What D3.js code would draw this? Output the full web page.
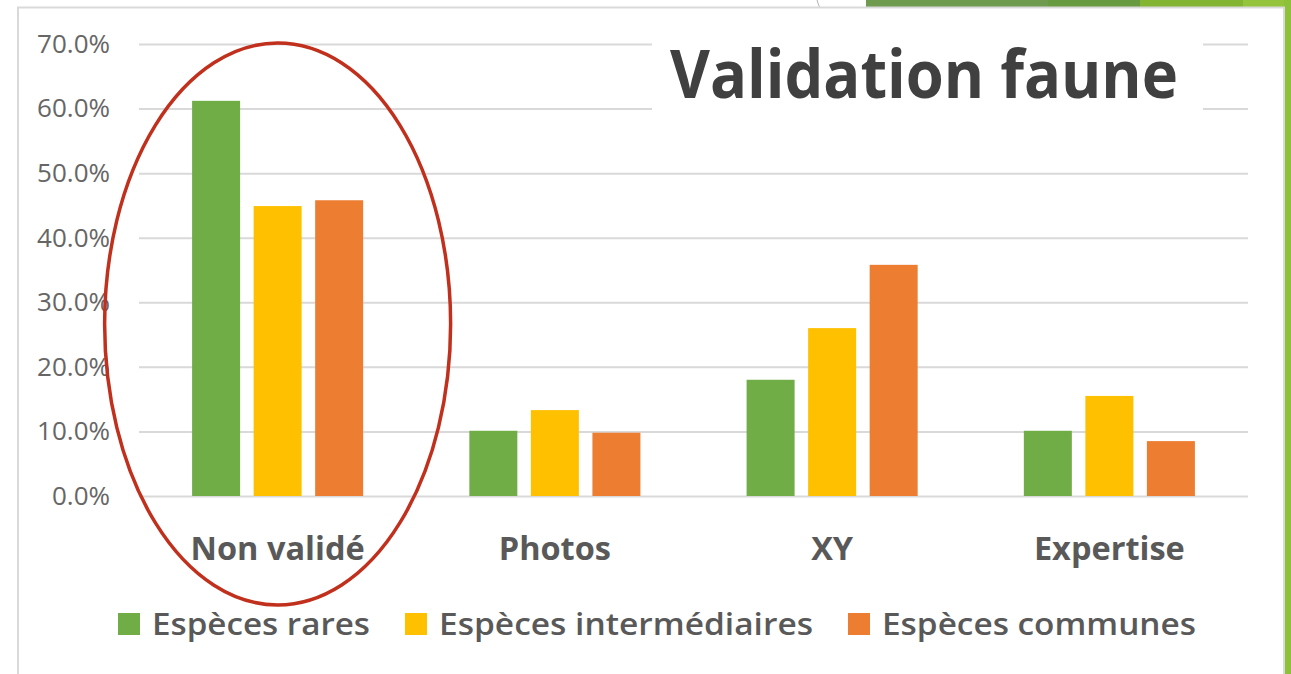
<!DOCTYPE html>
<html>
<head>
<meta charset="utf-8">
<script src="https://cdn.jsdelivr.net/npm/d3@7"></script>
<style>
  html, body { margin: 0; padding: 0; background: #fff; }
  svg { display: block; font-family: "Open Sans", sans-serif; }
</style>
</head>
<body>
<script>
// data
var categories = ["Non validé", "Photos", "XY", "Expertise"];
var series = ["Espèces rares", "Espèces intermédiaires", "Espèces communes"];
var rares = [0.612, 0.101, 0.180, 0.101];
var intermediaires = [0.449, 0.133, 0.260, 0.155];
var communes = [0.458, 0.098, 0.358, 0.085];
var tickValues = [0, 0.1, 0.2, 0.3, 0.4, 0.5, 0.6, 0.7];
var colors = ["#70ad47", "#ffc000", "#ed7d31"];

var values = [rares, intermediaires, communes];

var width = 1291, height = 674;
var svg = d3.select("body").append("svg")
  .attr("width", width)
  .attr("height", height);

// slide decoration behind the chart box
var deco = svg.append("g");
deco.append("rect").attr("x", 866).attr("y", 0).attr("width", 182).attr("height", 10).attr("fill", "#6f9b4e");
deco.append("rect").attr("x", 1048).attr("y", 0).attr("width", 92).attr("height", 10).attr("fill", "#689a3f");
deco.append("rect").attr("x", 1140).attr("y", 0).attr("width", 103).attr("height", 10).attr("fill", "#84b532");
deco.append("rect").attr("x", 1243).attr("y", 0).attr("width", 48).attr("height", 10).attr("fill", "#93c43b");
deco.append("rect").attr("x", 1284).attr("y", 0).attr("width", 7).attr("height", height).attr("fill", "#8dc13a");
deco.append("path").attr("d", "M817,0 Q818,4 820,8").attr("fill", "none").attr("stroke", "#b0b0b0").attr("stroke-width", 1);

// chart box
svg.append("rect")
  .attr("x", 18).attr("y", 7.5)
  .attr("width", 1266).attr("height", height)
  .attr("fill", "#fff")
  .attr("stroke", "#d9d9d9")
  .attr("stroke-width", 2);

// scales
var x0 = d3.scaleBand().domain(categories).range([139, 1248]).paddingInner(0.383).paddingOuter(0.1915);
var x1 = d3.scaleBand().domain(series).range([0, x0.bandwidth()]).paddingInner(0.22);
var y = d3.scaleLinear().domain([0, 0.7]).range([496, 44]);

// grid + tick labels
var yAxis = svg.append("g")
  .attr("transform", "translate(139,0)")
  .call(d3.axisLeft(y)
    .tickValues(tickValues)
    .tickFormat(d3.format(".1%"))
    .tickSize(-(1248 - 139))
    .tickPadding(29));
yAxis.select(".domain").remove();
yAxis.selectAll(".tick line").attr("stroke", "#d9d9d9").attr("stroke-width", 2);
yAxis.selectAll(".tick text")
  .attr("fill", "#666")
  .style("font-size", "26px")
  .style("font-family", "'Open Sans', sans-serif");

// bars
var groups = svg.selectAll(".cat")
  .data(categories)
  .enter().append("g")
  .attr("class", "cat")
  .attr("transform", function (d) { return "translate(" + x0(d) + ",0)"; });

groups.selectAll("rect")
  .data(function (d, i) {
    return series.map(function (s, j) { return {s: s, v: values[j][i], c: colors[j]}; });
  })
  .enter().append("rect")
  .attr("x", function (d) { return x1(d.s); })
  .attr("y", function (d) { return y(d.v); })
  .attr("width", x1.bandwidth())
  .attr("height", function (d) { return y(0) - y(d.v); })
  .attr("fill", function (d) { return d.c; });

// category labels
svg.selectAll(".cat-label")
  .data(categories)
  .enter().append("text")
  .attr("class", "cat-label")
  .attr("x", function (d) { return x0(d) + x0.bandwidth() / 2; })
  .attr("y", 560)
  .attr("text-anchor", "middle")
  .attr("fill", "#595959")
  .style("font-size", "32.5px")
  .style("font-weight", "bold")
  .text(function (d) { return d; });

// title, with white backing over the top grid lines
svg.append("rect").attr("x", 652).attr("y", 28).attr("width", 551).attr("height", 100).attr("fill", "#fff");
svg.append("text")
  .attr("x", 670).attr("y", 98)
  .attr("fill", "#404040")
  .attr("textLength", 508)
  .attr("lengthAdjust", "spacingAndGlyphs")
  .style("font-size", "66px")
  .style("font-weight", "bold")
  .text("Validation faune");

// legend
var legendWidths = [218, 374, 314];
var legend = svg.append("g");
var items = legend.selectAll("g")
  .data(series)
  .enter().append("g");
items.append("rect")
  .attr("width", 22).attr("height", 22)
  .attr("y", 613)
  .attr("fill", function (d, i) { return colors[i]; });
items.append("text")
  .attr("x", 34).attr("y", 635)
  .attr("fill", "#595959")
  .attr("textLength", function (d, i) { return legendWidths[i]; })
  .attr("lengthAdjust", "spacingAndGlyphs")
  .style("font-size", "31px")
  .style("font-weight", "600")
  .text(function (d) { return d; });
var lx = 0, pos = [];
items.each(function (d, i) {
  pos.push(lx);
  lx += 34 + legendWidths[i] + 35;
});
lx -= 35;
var start = 657 - lx / 2;
items.attr("transform", function (d, i) { return "translate(" + (start + pos[i]) + ",0)"; });

// highlight ellipse
svg.append("ellipse")
  .attr("cx", x0(categories[0]) + x0.bandwidth() / 2)
  .attr("cy", 324)
  .attr("rx", 173)
  .attr("ry", 281)
  .attr("fill", "none")
  .attr("stroke", "#c0301c")
  .attr("stroke-width", 3.5);
</script>
</body>
</html>
